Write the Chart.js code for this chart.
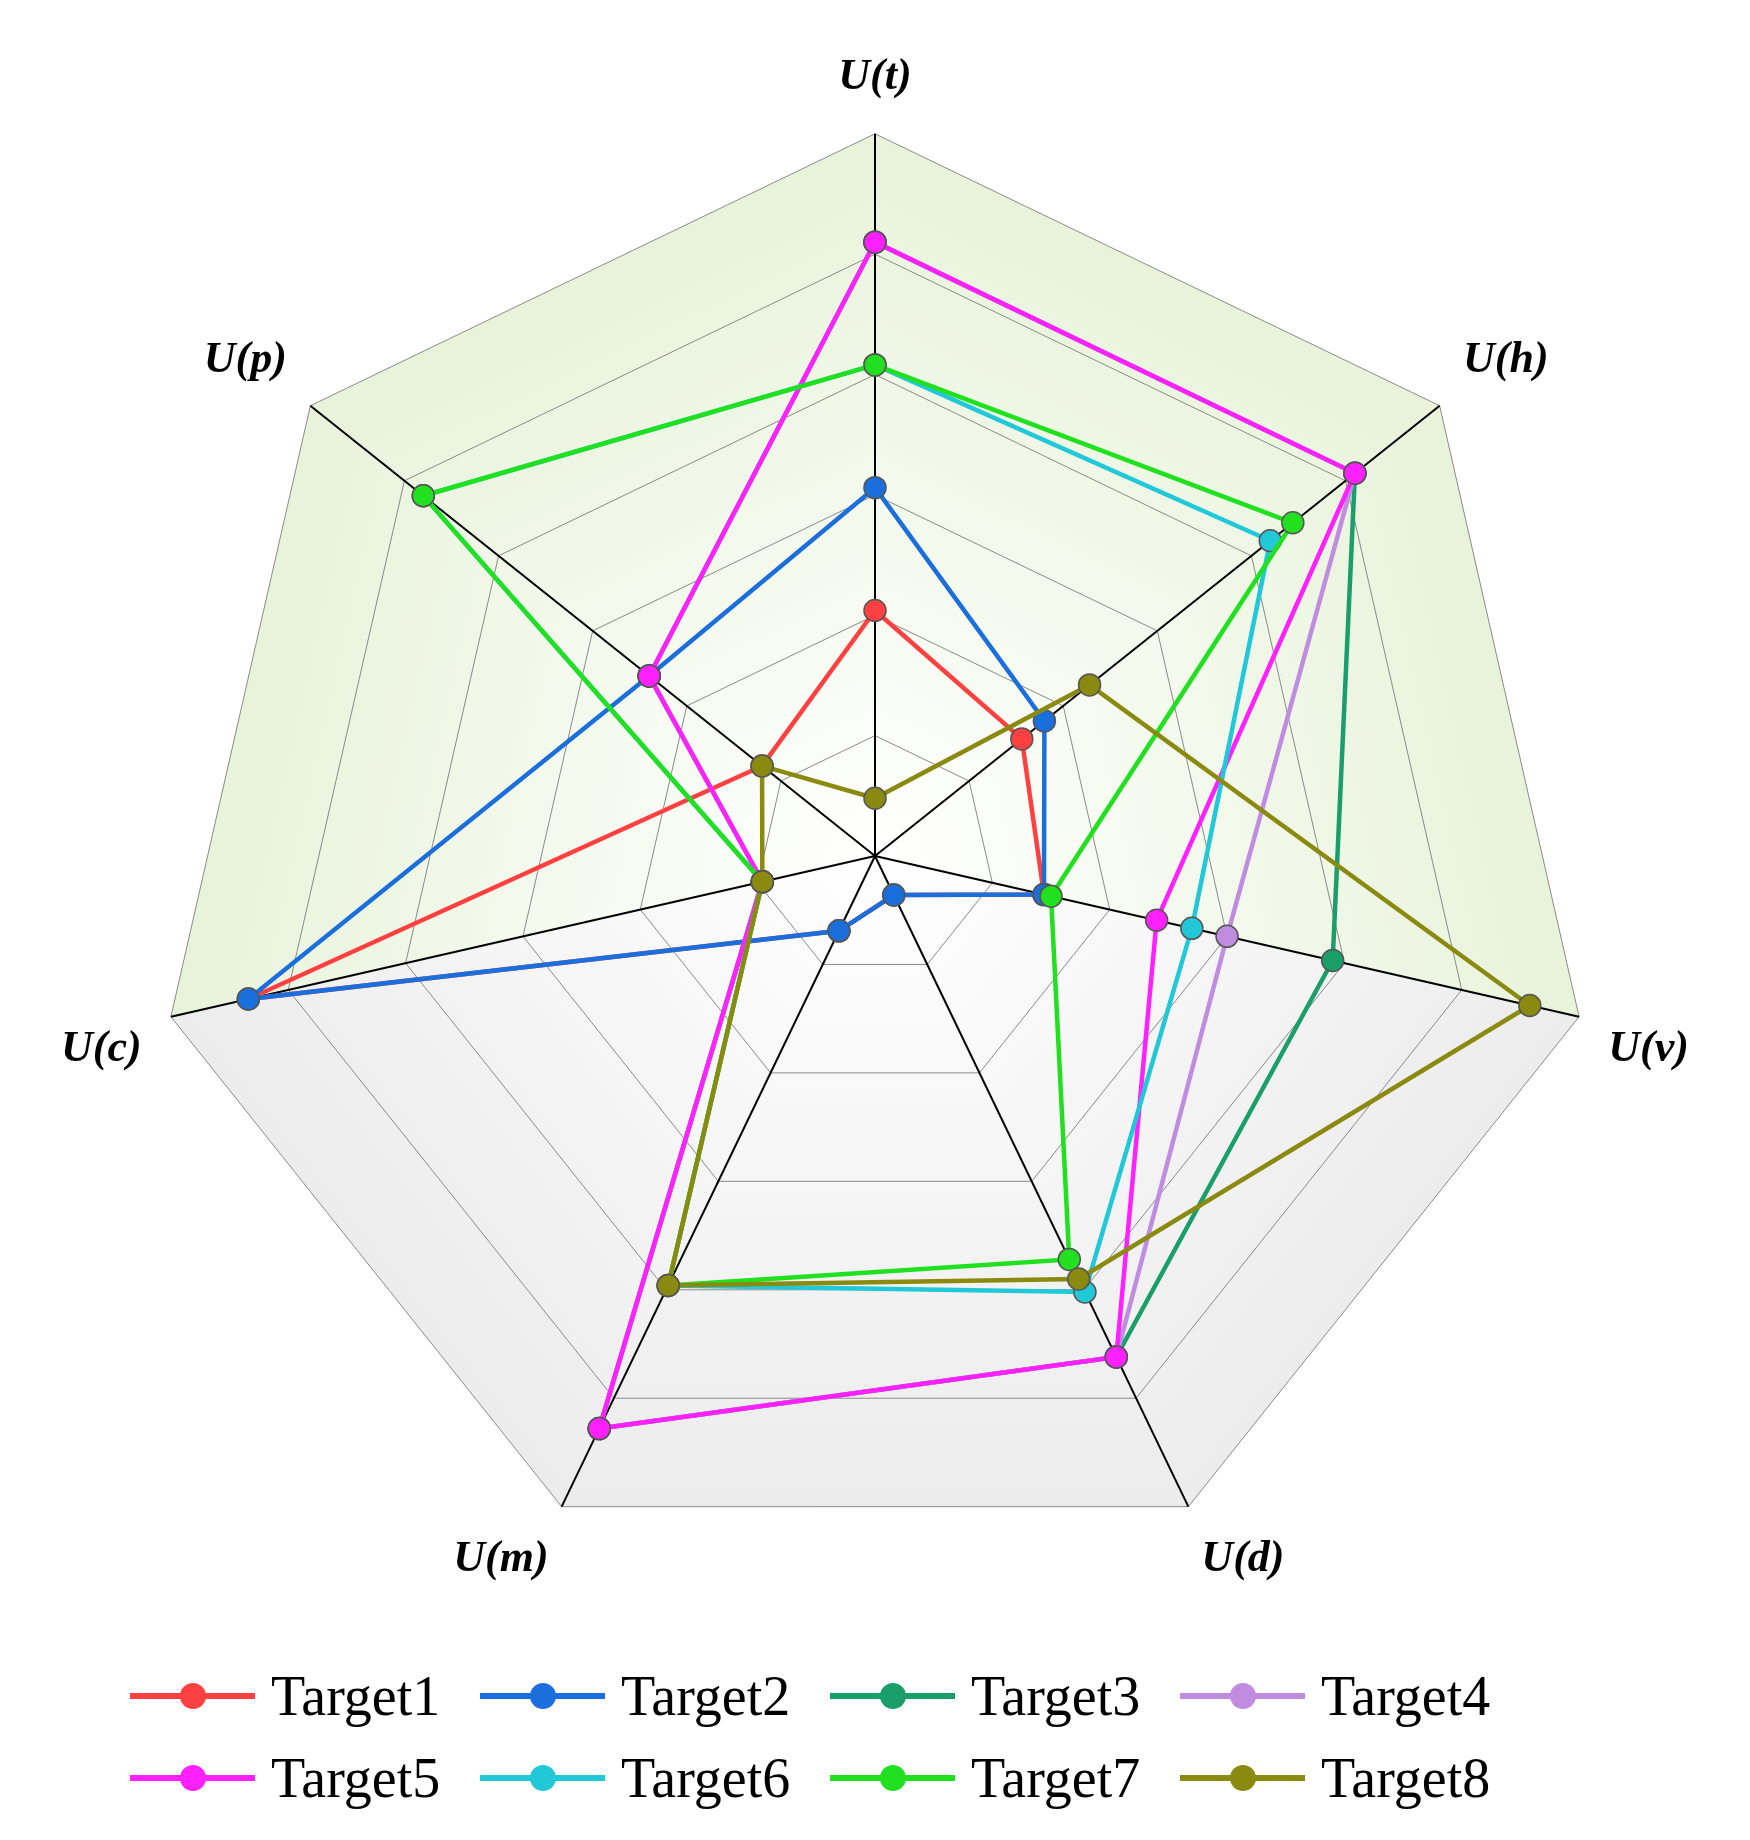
<!DOCTYPE html>
<html><head><meta charset="utf-8">
<script src="https://cdn.jsdelivr.net/npm/chart.js@4/dist/chart.umd.min.js"></script>
<style>
body{margin:0;background:#fff;width:1750px;height:1840px;overflow:hidden}
#wrap{position:absolute;left:0;top:0;width:1750px;height:1640px}
#legend{position:absolute;left:130px;top:1665px;width:1500px;display:grid;grid-template-columns:repeat(4,350px);row-gap:20px;font-family:"Liberation Serif",serif;font-size:56px;color:#000}
.it{display:flex;align-items:center;height:62px}
.sw{position:relative;width:125px;height:6px;margin-right:16px}
.sw i{position:absolute;left:50%;top:50%;width:26px;height:26px;border-radius:50%;transform:translate(-50%,-50%)}
</style></head><body>
<div id="wrap"><canvas id="c" width="1750" height="1640"></canvas></div>
<div id="legend"></div>
<script>
const categories=["U(t)","U(h)","U(v)","U(d)","U(m)","U(c)","U(p)"];
const seriesNames=["Target1","Target2","Target3","Target4","Target5","Target6","Target7","Target8"];
const colors=["#ff4040","#1a6fdc","#1a9e6a","#c08ce0","#ff20ff","#20c8d8","#20e020","#8a8a10"];
const target1=[0.34,0.26,0.24,0.06,0.115,0.89,0.20];
const target2=[0.51,0.30,0.24,0.06,0.115,0.89,0.40];
const target3=[0.85,0.85,0.65,0.77,0.88,0.16,0.40];
const target4=[0.85,0.85,0.50,0.77,0.88,0.16,0.40];
const target5=[0.85,0.85,0.40,0.77,0.88,0.16,0.40];
const target6=[0.68,0.70,0.45,0.67,0.66,0.16,0.80];
const target7=[0.68,0.74,0.25,0.62,0.66,0.16,0.80];
const target8=[0.08,0.38,0.93,0.65,0.66,0.16,0.20];
const allData=[target1,target2,target3,target4,target5,target6,target7,target8];

const bg={id:'bg',beforeDraw(chart){
  const s=chart.scales.r,ctx=chart.ctx,n=categories.length;
  const pts=[];for(let i=0;i<n;i++)pts.push(s.getPointPositionForValue(i,1));
  const cx=s.xCenter,cy=s.yCenter,R=s.drawingArea;
  ctx.save();
  for(let i=0;i<n;i++){
    const a=pts[i],b=pts[(i+1)%n];
    const g=ctx.createLinearGradient(cx,cy,(a.x+b.x)/2,(a.y+b.y)/2);
    const top=((a.y+b.y)/2-cy)<0;
    g.addColorStop(0,'#ffffff');
    g.addColorStop(1,top?'#e8f3da':'#ececec');
    ctx.beginPath();ctx.moveTo(cx,cy);ctx.lineTo(a.x,a.y);ctx.lineTo(b.x,b.y);ctx.closePath();
    ctx.fillStyle=g;ctx.fill();
  }
  ctx.restore();
}};

new Chart(document.getElementById('c'),{
  type:'radar',
  data:{labels:categories,datasets:allData.map((d,i)=>({label:seriesNames[i],data:d,order:allData.length-i,borderColor:colors[i],backgroundColor:colors[i],fill:false,borderWidth:4.5,pointRadius:11,pointBorderWidth:1.5,pointBorderColor:'#555',pointBackgroundColor:colors[i]}))},
  options:{responsive:false,animation:false,
    layout:{padding:{top:10,bottom:20,left:10,right:10}},
    plugins:{legend:{display:false},tooltip:{enabled:false}},
    scales:{r:{min:0,max:1,ticks:{display:false,stepSize:1/6},
      grid:{color:'#8a8a8a',lineWidth:1},
      angleLines:{color:'#000',lineWidth:2},
      pointLabels:{padding:30,color:'#000',font:{family:'Liberation Serif',size:44,weight:'bold',style:'italic'}}}}
  },plugins:[bg]
});
const lg=document.getElementById('legend');
seriesNames.forEach((n,i)=>{lg.innerHTML+=`<div class="it"><div class="sw" style="background:${colors[i]}"><i style="background:${colors[i]}"></i></div>${n}</div>`;});
</script></body></html>
